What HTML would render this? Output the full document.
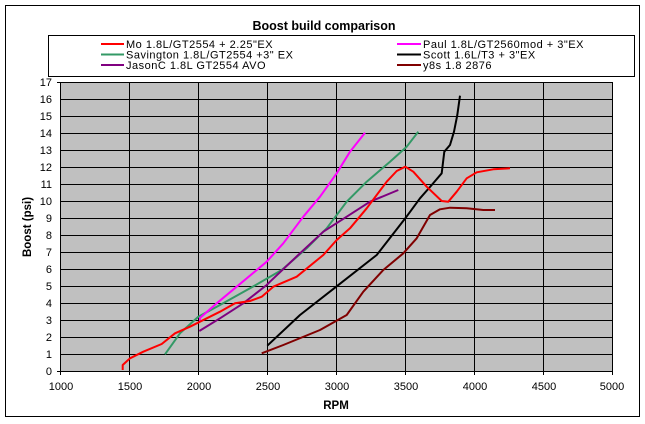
<!DOCTYPE html>
<html><head><meta charset="utf-8"><style>
html,body{margin:0;padding:0;background:#fff;}
svg{display:block;font-family:"Liberation Sans",Arial,sans-serif;}
</style></head><body>
<svg width="645" height="424" viewBox="0 0 645 424" xmlns="http://www.w3.org/2000/svg">
<rect x="0" y="0" width="645" height="424" fill="#fff"/>
<rect x="5.5" y="5.5" width="634" height="411" fill="#fff" stroke="#000" stroke-width="1"/>
<text x="324" y="30" font-size="12.5" font-weight="bold" text-anchor="middle">Boost build comparison</text>
<rect x="48.5" y="35.5" width="586" height="41" fill="#fff" stroke="#000" stroke-width="1"/>
<g font-size="11" fill="#000" letter-spacing="0.5">
<line x1="101" y1="44" x2="124" y2="44" stroke="#ff0000" stroke-width="2"/><text x="126" y="48">Mo 1.8L/GT2554 + 2.25"EX</text>
<line x1="101" y1="54.5" x2="124" y2="54.5" stroke="#339966" stroke-width="2"/><text x="126" y="58.5">Savington 1.8L/GT2554 +3" EX</text>
<line x1="101" y1="65" x2="124" y2="65" stroke="#800080" stroke-width="2"/><text x="126" y="69">JasonC 1.8L GT2554 AVO</text>
<line x1="397" y1="44" x2="421" y2="44" stroke="#ff00ff" stroke-width="2"/><text x="423" y="48">Paul 1.8L/GT2560mod + 3"EX</text>
<line x1="397" y1="54.5" x2="421" y2="54.5" stroke="#000" stroke-width="2"/><text x="423" y="58.5">Scott 1.6L/T3 + 3"EX</text>
<line x1="397" y1="65" x2="421" y2="65" stroke="#800000" stroke-width="2"/><text x="423" y="69">y8s 1.8 2876</text>
</g>
<rect x="60.5" y="82.5" width="552" height="289" fill="#c0c0c0"/>
<g stroke="#000" stroke-width="1">
<line x1="60" y1="99.5" x2="612" y2="99.5"/><line x1="60" y1="116.5" x2="612" y2="116.5"/><line x1="60" y1="133.5" x2="612" y2="133.5"/><line x1="60" y1="150.5" x2="612" y2="150.5"/><line x1="60" y1="167.5" x2="612" y2="167.5"/><line x1="60" y1="184.5" x2="612" y2="184.5"/><line x1="60" y1="201.5" x2="612" y2="201.5"/><line x1="60" y1="218.5" x2="612" y2="218.5"/><line x1="60" y1="235.5" x2="612" y2="235.5"/><line x1="60" y1="252.5" x2="612" y2="252.5"/><line x1="60" y1="269.5" x2="612" y2="269.5"/><line x1="60" y1="286.5" x2="612" y2="286.5"/><line x1="60" y1="303.5" x2="612" y2="303.5"/><line x1="60" y1="320.5" x2="612" y2="320.5"/><line x1="60" y1="337.5" x2="612" y2="337.5"/><line x1="60" y1="354.5" x2="612" y2="354.5"/><line x1="60" y1="82.5" x2="612" y2="82.5"/>
<line x1="129.5" y1="82" x2="129.5" y2="375"/><line x1="198.5" y1="82" x2="198.5" y2="375"/><line x1="267.5" y1="82" x2="267.5" y2="375"/><line x1="336.5" y1="82" x2="336.5" y2="375"/><line x1="405.5" y1="82" x2="405.5" y2="375"/><line x1="474.5" y1="82" x2="474.5" y2="375"/><line x1="543.5" y1="82" x2="543.5" y2="375"/><line x1="612.5" y1="82" x2="612.5" y2="375"/>
<line x1="60.5" y1="82" x2="60.5" y2="375"/><line x1="57" y1="371.5" x2="612" y2="371.5"/>
<line x1="57" y1="82.5" x2="60" y2="82.5"/>
</g>
<g font-size="11" text-anchor="end">
<text x="52" y="375">0</text><text x="52" y="358">1</text><text x="52" y="341">2</text><text x="52" y="324">3</text><text x="52" y="307">4</text><text x="52" y="290">5</text><text x="52" y="273">6</text><text x="52" y="256">7</text><text x="52" y="239">8</text><text x="52" y="222">9</text><text x="52" y="205">10</text><text x="52" y="188">11</text><text x="52" y="171">12</text><text x="52" y="154">13</text><text x="52" y="137">14</text><text x="52" y="120">15</text><text x="52" y="103">16</text><text x="52" y="86">17</text>
</g>
<g font-size="11" text-anchor="middle">
<text x="61" y="390">1000</text><text x="130" y="390">1500</text><text x="199" y="390">2000</text><text x="268" y="390">2500</text><text x="337" y="390">3000</text><text x="406" y="390">3500</text><text x="475" y="390">4000</text><text x="544" y="390">4500</text><text x="612" y="390">5000</text>
</g>
<text x="336" y="409" font-size="11.5" font-weight="bold" text-anchor="middle">RPM</text>
<text transform="translate(31,227) rotate(-90)" font-size="11.5" font-weight="bold" text-anchor="middle">Boost (psi)</text>
<g fill="none" stroke-width="2" stroke-linejoin="round">
<polyline stroke="#800000" points="261.7,353.3 283.3,345 320,330 346.7,315 363.3,291.7 383.3,270 403.3,253.3 416.7,238.3 430,215 440,209.3 450,207.7 466.7,208.3 483.3,210 495,210"/>
<polyline stroke="#000" points="267.3,345.7 300,315 336.7,286.3 376.7,255 405.3,218.3 420,198.3 431.7,185 441.7,173.3 444.3,151.7 450,145 454,131.7 457.3,115 460,95.7"/>
<polyline stroke="#339966" points="165,354.3 180,333.3 198.3,316.7 220,305 250,288.3 281.7,270 306.7,248.3 326.7,228.3 346.7,201.7 366.7,181.7 390,161.7 406.7,146.7 418.3,131.7"/>
<polyline stroke="#800080" points="199.3,331 220,318.3 243.3,303.3 266.7,285 270,281.7 300,253.3 323.3,231.7 346.7,216.7 370,201.7 398.3,190"/>
<polyline stroke="#ff00ff" points="200,321.7 200,318 216.7,303.3 236.7,286.7 266.7,261.7 283.3,243.3 303.3,216.7 320,196.7 336.7,173.3 350,151.7 365,132.7"/>
<polyline stroke="#ff0000" points="122.7,370 122.7,365 130,358.3 143.3,351.7 161.7,344 175,333.3 190,326.7 210,316.7 220,311.7 235,303.3 250,301 261.7,296.7 273.3,286.7 296.7,276.7 323.3,255 336.7,240 350,228.3 366.7,208.3 386.7,181.7 396.7,171 405.3,166.7 413.3,171.7 426.7,186.7 441.7,201 448.3,201.7 456.7,191.7 466.7,178.3 476.7,172.3 493.3,169.3 510,168.3"/>
</g>
</svg>
</body></html>
